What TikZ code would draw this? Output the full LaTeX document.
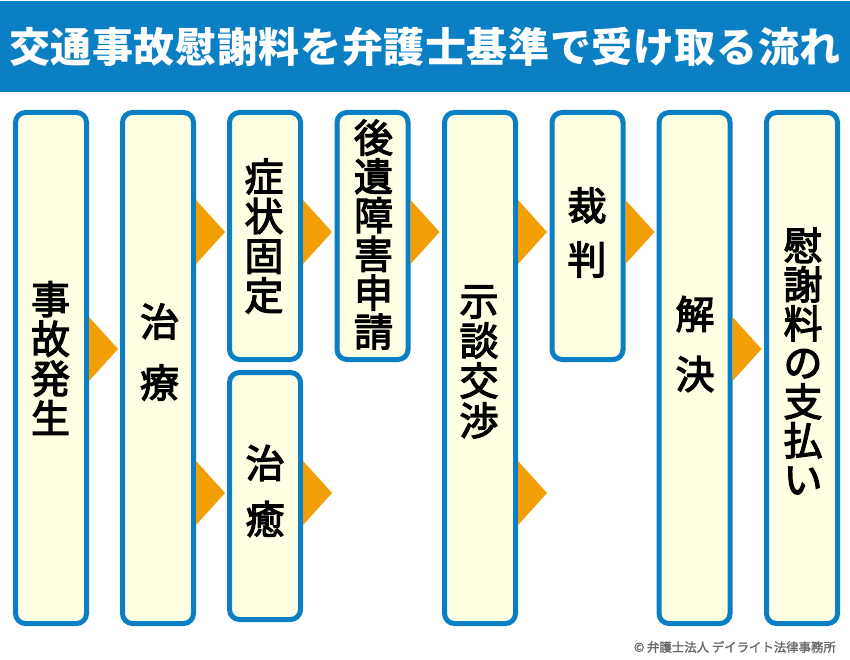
\documentclass[tikz,border=0pt]{standalone}
\usepackage{fontspec}
\setmainfont{Noto Sans CJK JP}
\newfontfamily\titlefont[LetterSpace=1.5]{Noto Sans CJK JP}
\newfontfamily\bodyfont[FakeBold=3]{Noto Sans CJK JP}
\newfontfamily\footfont[FakeBold=1.5]{Noto Sans CJK JP}
\definecolor{hblue}{HTML}{0A7FC4}
\definecolor{boxfill}{HTML}{FFFFE3}
\definecolor{arrowc}{HTML}{F29F05}
\definecolor{footc}{HTML}{666666}
\tikzset{
 flowbox/.style={draw=hblue,fill=boxfill,line width=5pt,rounded corners=10pt,minimum width=71pt,inner sep=0pt,outer sep=2.5pt,anchor=north west},
 vlabel/.style={align=center,text=black,inner sep=0pt,font=\bodyfont\fontsize{39}{#1}\selectfont},
 arrowtri/.style={fill=arrowc,draw=none},
}
\newcommand\boxat[8]{% name x top bottom pitch text cx cy
 \node[flowbox,minimum height=#4-#3-5pt] (#1) at (#2,#3) {};
 \node[vlabel=#5] (#1t) at (#7,#8) {#6};}
\newcommand\tri[2]{%
 \coordinate (t) at (#1.east |- 0,#2);
 \fill[arrowtri] ([yshift=32pt]t) -- ([xshift=29pt]t) -- ([yshift=-32pt]t) -- cycle;}
\begin{document}
\begin{tikzpicture}[x=1pt,y=-1pt]
\useasboundingbox (0,0) rectangle (850,660);
\fill[white] (0,0) rectangle (850,660);
\node[fill=hblue,minimum width=850pt,minimum height=91pt,inner sep=0pt,outer sep=0pt,anchor=north west] (header) at (0,1) {};
\node[text=white,inner sep=0pt,font=\titlefont\bfseries\fontsize{41}{41}\selectfont] (title) at (425,47) {交通事故慰謝料を弁護士基準で受け取る流れ};
\boxat{a}{13}{110}{626}{39.7}{事\\故\\発\\生}{50.5}{358}
\boxat{b}{120}{110}{626}{61}{治\\療}{159.5}{352}
\boxat{c}{227}{110}{362}{39.7}{症\\状\\固\\定}{264}{236}
\boxat{d}{227}{370}{622}{56}{治\\癒}{265}{491}
\boxat{e}{334.5}{110}{362}{38.8}{後\\遺\\障\\害\\申\\請}{373.5}{234.5}
\boxat{f}{442}{110}{626}{40}{示\\談\\交\\渉}{479}{362}
\boxat{g}{549.5}{110}{362}{54}{裁\\判}{587}{232.5}
\boxat{h}{656.5}{110}{626}{60}{解\\決}{695}{344}
\boxat{i}{764}{110}{626}{39}{慰\\謝\\料\\の\\支\\払\\い}{803}{361}
\tri{a}{349}
\tri{b}{232}
\tri{b}{493}
\tri{c}{232}
\tri{d}{493}
\tri{e}{232}
\tri{f}{232}
\tri{f}{493}
\tri{g}{232}
\tri{h}{349}
\node[anchor=east,text=footc,inner sep=0pt,font=\footfont\fontsize{12.4}{12.4}\selectfont] (foot) at (836,647) {© 弁護士法人 デイライト法律事務所};
\end{tikzpicture}
\end{document}
